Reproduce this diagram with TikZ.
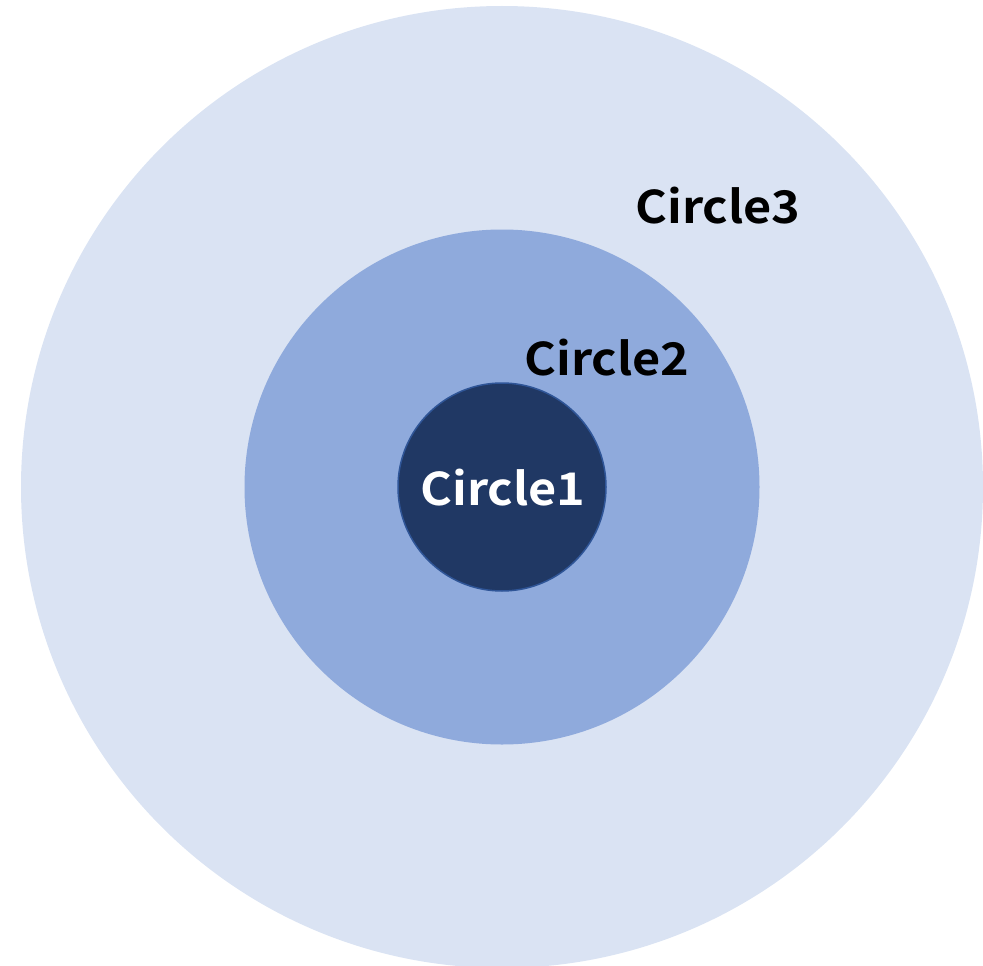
\documentclass[tikz,border=0pt]{standalone}
\usepackage{fontspec}
\newfontfamily\lblfont{Noto Sans CJK JP Bold}[FakeStretch=1.08]
\definecolor{outerc}{HTML}{DAE3F3}
\definecolor{midc}{HTML}{8FAADC}
\definecolor{innerc}{HTML}{203864}
\definecolor{innerb}{HTML}{2F5597}
\begin{document}
\begin{tikzpicture}[x=1pt,y=-1pt,
  lbl/.style={font=\lblfont\fontsize{45}{45}\selectfont, inner sep=0pt}]
\useasboundingbox (0,0) rectangle (983,966);
\clip (0,0) rectangle (983,966);
\node[circle, fill=outerc, minimum size=962pt, inner sep=0pt] (c3) at (502,487) {};
\node[circle, fill=midc, minimum size=515pt, inner sep=0pt] (c2) at (502,487) {};
\node[circle, fill=innerc, draw=innerb, line width=1.5pt, minimum size=208pt, inner sep=0pt] (c1) at (502,487) {};
\node[lbl, text=white] (t1) at (503,488) {Circle1};
\node[lbl] (t2) at (607,358) {Circle2};
\node[lbl] (t3) at (718,206) {Circle3};
\end{tikzpicture}
\end{document}
